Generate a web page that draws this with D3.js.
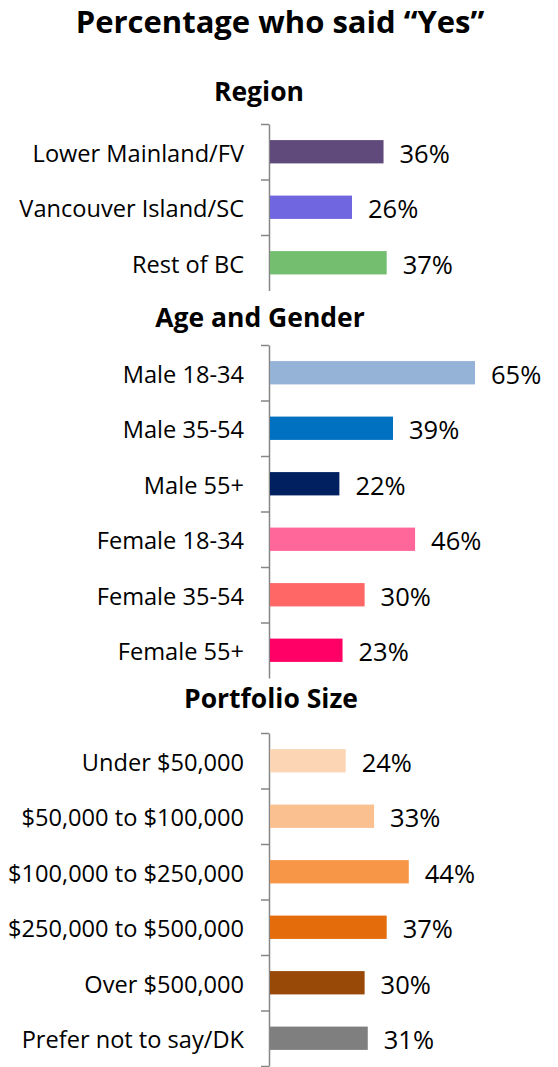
<!DOCTYPE html>
<html>
<head>
<meta charset="utf-8">
<script src="https://cdn.jsdelivr.net/npm/d3@7"></script>
<style>
	body { margin: 0; background: #fff; }
	svg { font-family: "Open Sans", Lato, sans-serif; }
	.axis path, .axis line { stroke: #868686; stroke-width: 1.5px; }
</style>
</head>
<body>
<svg id="chart" width="558" height="1067"></svg>
<script>
//chart data
var title = "Percentage who said \u201cYes\u201d";
var groupNames = ["Region", "Age and Gender", "Portfolio Size"];

var regionLabels = ["Lower Mainland/FV", "Vancouver Island/SC", "Rest of BC"];
var regionValues = [36, 26, 37];
var regionColors = ["#604a7b", "#6f66e0", "#74be6f"];

var ageLabels = ["Male 18-34", "Male 35-54", "Male 55+", "Female 18-34", "Female 35-54", "Female 55+"];
var ageValues = [65, 39, 22, 46, 30, 23];
var ageColors = ["#95b3d7", "#0070c0", "#002060", "#ff6699", "#ff6666", "#ff0066"];

var portfolioLabels = ["Under $50,000", "$50,000 to $100,000", "$100,000 to $250,000", "$250,000 to $500,000", "Over $500,000", "Prefer not to say/DK"];
var portfolioValues = [24, 33, 44, 37, 30, 31];
var portfolioColors = ["#fcd5b5", "#fac090", "#f79646", "#e46c0a", "#984807", "#7f7f7f"];

var svg = d3.select("#chart");

var axisX = 269;
var band = 55.5;
var x = d3.scaleLinear().domain([0, 65]).range([axisX + 1, 475]);

svg.append("text")
	.attr("x", 280).attr("y", 33)
	.attr("text-anchor", "middle")
	.style("font-size", "31px").style("font-weight", "bold")
	.text(title);

//each group: header baseline and top of its axis
var groups = [
	{name: groupNames[0], labels: regionLabels, values: regionValues, colors: regionColors, headY: 101, headX: 259, top: 124},
	{name: groupNames[1], labels: ageLabels, values: ageValues, colors: ageColors, headY: 327, headX: 260, top: 345},
	{name: groupNames[2], labels: portfolioLabels, values: portfolioValues, colors: portfolioColors, headY: 708, headX: 271, top: 733}
];

groups.forEach(function(grp, gi) {
	var n = grp.labels.length;
	var y = d3.scaleBand()
		.domain(grp.labels)
		.range([grp.top, grp.top + n * band])
		.paddingInner(0.58).paddingOuter(0.29);

	svg.append("text")
		.attr("x", grp.headX).attr("y", grp.headY)
		.attr("text-anchor", "middle")
		.style("font-size", "26.5px").style("font-weight", "bold")
		.text(grp.name);

	//ticks sit on the band boundaries, like Excel
	var yb = d3.scaleLinear().domain([0, n]).range([grp.top, grp.top + n * band]);
	var ticks = d3.range(0, gi == 2 ? n + 1 : n);
	svg.append("g")
		.attr("class", "axis")
		.attr("transform", "translate(" + axisX + ",0)")
		.call(d3.axisLeft(yb).tickValues(ticks).tickSize(8).tickSizeOuter(0).tickFormat(""));

	var g = svg.append("g");
	g.selectAll("rect")
		.data(grp.values)
		.enter().append("rect")
		.attr("x", x(0))
		.attr("y", function(d, i) { return y(grp.labels[i]); })
		.attr("width", function(d) { return x(d) - x(0); })
		.attr("height", y.bandwidth())
		.attr("fill", function(d, i) { return grp.colors[i]; });

	g.selectAll(".val")
		.data(grp.values)
		.enter().append("text")
		.attr("class", "val")
		.attr("x", function(d) { return x(d) + 16; })
		.attr("y", function(d, i) { return y(grp.labels[i]) + y.bandwidth() / 2 + 1; })
		.attr("dominant-baseline", "central")
		.style("font-size", "25.5px")
		.text(function(d) { return d + "%"; });

	g.selectAll(".cat")
		.data(grp.labels)
		.enter().append("text")
		.attr("class", "cat")
		.attr("x", 244)
		.attr("y", function(d) { return y(d) + y.bandwidth() / 2 + 1; })
		.attr("text-anchor", "end")
		.attr("dominant-baseline", "central")
		.style("font-size", "23.6px")
		.text(function(d) { return d; });
});
</script>
</body>
</html>
